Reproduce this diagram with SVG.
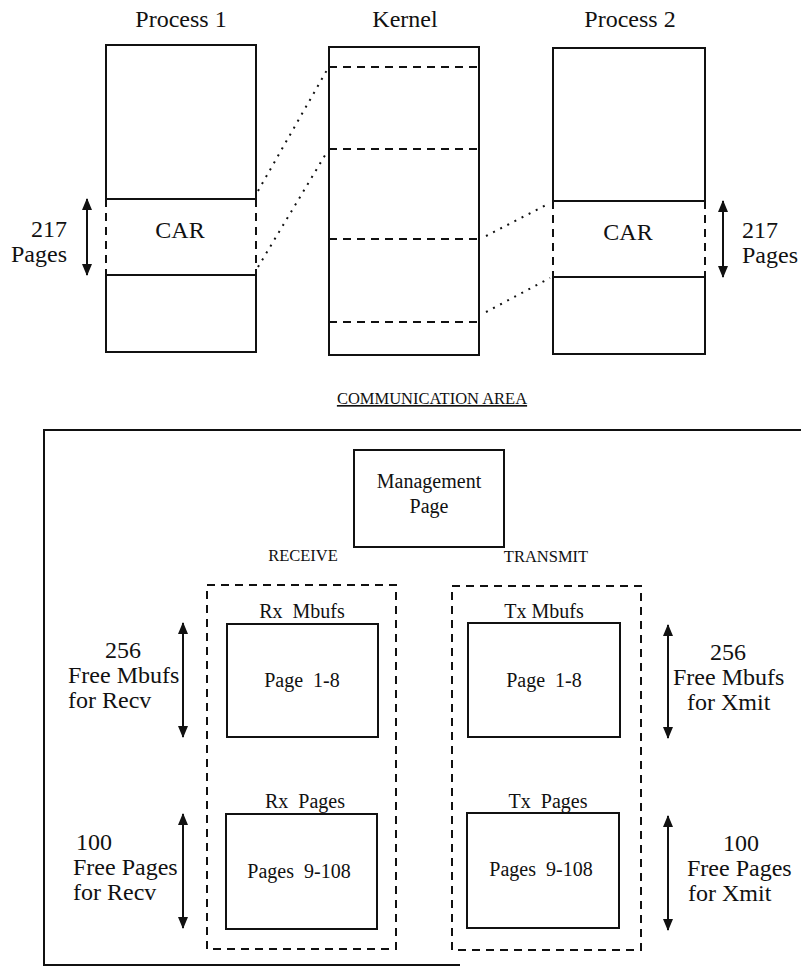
<svg xmlns="http://www.w3.org/2000/svg" width="801" height="967" viewBox="0 0 801 967">
<style>
text{font-family:"Liberation Serif","Times New Roman",serif;fill:#111}
.t{font-size:24px}
.l{font-size:24px}
.b{font-size:20px;white-space:pre}
.s{font-size:16.5px}
.box{fill:none;stroke:#111;stroke-width:2}
.dash{fill:none;stroke:#111;stroke-width:2;stroke-dasharray:8 6}
.dot{fill:none;stroke:#111;stroke-width:2;stroke-dasharray:2 6}
.arr{stroke:#111;stroke-width:2;marker-start:url(#ah);marker-end:url(#ah)}
</style>
<defs>
<marker id="ah" viewBox="0 0 12 10" refX="11" refY="5" markerWidth="12" markerHeight="10" markerUnits="userSpaceOnUse" orient="auto-start-reverse">
<path d="M0 0 L12 5 L0 10 Z" fill="#111"/>
</marker>
</defs>
<rect width="801" height="967" fill="#fff"/>

<g id="process1">
<text class="t" x="181" y="27" text-anchor="middle">Process 1</text>
<path class="box" d="M106 199 V45 H256 V199 H106"/>
<path class="dash" d="M106 199 V275 M256 199 V275"/>
<path class="box" d="M106 275 H256 V352 H106 Z"/>
<text class="l" x="180" y="238" text-anchor="middle">CAR</text>
</g>

<g id="kernel">
<text class="t" x="405" y="27" text-anchor="middle">Kernel</text>
<rect class="box" x="329" y="47" width="150" height="308"/>
<path class="dash" d="M329 67 H479 M329 149 H479 M329 239 H479 M329 322 H479"/>
</g>

<g id="process2">
<text class="t" x="630" y="27" text-anchor="middle">Process 2</text>
<path class="box" d="M553 201 V48 H705 V201 H553"/>
<path class="dash" d="M553 201 V277 M705 201 V277"/>
<path class="box" d="M553 277 H705 V354 H553 Z"/>
<text class="l" x="628" y="240" text-anchor="middle">CAR</text>
</g>

<g id="label-217-left">
<text class="l" x="67" y="237" text-anchor="end">217</text>
<text class="l" x="67" y="262" text-anchor="end">Pages</text>
</g>
<g id="label-217-right">
<text class="l" x="742" y="238">217</text>
<text class="l" x="742" y="263">Pages</text>
</g>

<g id="comm-area">
<text class="s" x="432" y="404" text-anchor="middle" text-decoration="underline">COMMUNICATION AREA</text>
<path class="box" d="M801 430 H44 V965 H460"/>
</g>

<g id="management">
<rect class="box" x="354" y="450" width="150" height="97"/>
<text class="b" x="429" y="488" text-anchor="middle">Management</text>
<text class="b" x="429" y="513" text-anchor="middle">Page</text>
</g>

<g id="receive">
<text class="s" x="303" y="561" text-anchor="middle">RECEIVE</text>
<rect class="dash" x="207" y="585" width="189" height="364"/>
</g>
<g id="transmit">
<text class="s" x="546" y="562" text-anchor="middle">TRANSMIT</text>
<rect class="dash" x="452" y="586" width="189" height="364"/>
</g>

<g id="rx-mbufs">
<text class="b" x="302" y="618" text-anchor="middle">Rx  Mbufs</text>
<rect class="box" x="227" y="624" width="151" height="113"/>
<text class="b" x="302" y="687" text-anchor="middle">Page  1-8</text>
</g>
<g id="rx-pages">
<text class="b" x="305" y="808" text-anchor="middle">Rx  Pages</text>
<rect class="box" x="226" y="814" width="151" height="115"/>
<text class="b" x="299" y="878" text-anchor="middle">Pages  9-108</text>
</g>
<g id="tx-mbufs">
<text class="b" x="544" y="618" text-anchor="middle">Tx Mbufs</text>
<rect class="box" x="468" y="623" width="152" height="114"/>
<text class="b" x="544" y="687" text-anchor="middle">Page  1-8</text>
</g>
<g id="tx-pages">
<text class="b" x="548" y="808" text-anchor="middle">Tx  Pages</text>
<rect class="box" x="467" y="813" width="152" height="115"/>
<text class="b" x="541" y="876" text-anchor="middle">Pages  9-108</text>
</g>

<g id="label-rx-mbufs">
<text class="l" x="105" y="658">256</text>
<text class="l" x="68" y="683">Free Mbufs</text>
<text class="l" x="68" y="708">for Recv</text>
</g>
<g id="label-rx-pages">
<text class="l" x="76" y="850">100</text>
<text class="l" x="73" y="875">Free Pages</text>
<text class="l" x="73" y="900">for Recv</text>
</g>
<g id="label-tx-mbufs">
<text class="l" x="710" y="660">256</text>
<text class="l" x="673" y="685">Free Mbufs</text>
<text class="l" x="687" y="710">for Xmit</text>
</g>
<g id="label-tx-pages">
<text class="l" x="723" y="851">100</text>
<text class="l" x="687" y="876">Free Pages</text>
<text class="l" x="688" y="901">for Xmit</text>
</g>

<g id="connectors">
<path class="dot" d="M258 191 L327 70"/>
<path class="dot" d="M258 267 L327 152"/>
<path class="dot" d="M486 236 L550 203"/>
<path class="dot" d="M486 312 L550 278"/>
<line class="arr" x1="87" y1="199" x2="87" y2="275"/>
<line class="arr" x1="723" y1="201" x2="723" y2="277"/>
<line class="arr" x1="183" y1="623" x2="183" y2="737"/>
<line class="arr" x1="183" y1="814" x2="183" y2="928"/>
<line class="arr" x1="668" y1="625" x2="668" y2="738"/>
<line class="arr" x1="668" y1="816" x2="668" y2="930"/>
</g>
</svg>
